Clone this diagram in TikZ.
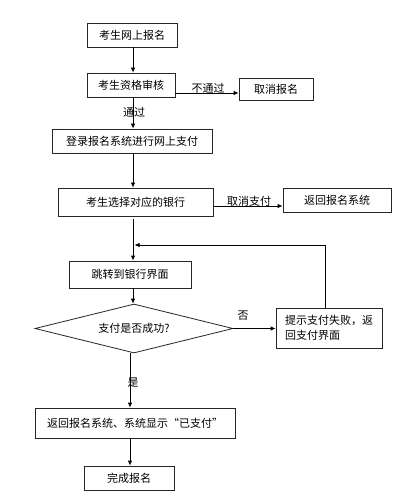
\documentclass[tikz,border=0pt]{standalone}
\usepackage{fontspec}
\setmainfont{Noto Sans CJK SC}
\usetikzlibrary{shapes.geometric,arrows.meta,calc}
\begin{document}
\begin{tikzpicture}[x=1pt,y=-1pt,
  box/.style={draw=black!85,line width=0.8pt,inner sep=2pt,font=\fontsize{11}{15}\selectfont},
  dia/.style={draw=black!85,line width=0.8pt,diamond,aspect=4,inner sep=0pt,font=\fontsize{11}{15}\selectfont},
  arr/.style={draw=black,line width=0.8pt,-{Latex[length=5pt,width=4.5pt]}},
  lbl/.style={font=\fontsize{11}{15}\selectfont,inner sep=1pt}]
\useasboundingbox[fill=white] (0,0) rectangle (406,502);
\node[box,minimum width=90pt,minimum height=24pt] (b1) at (132,35) {考生网上报名};
\node[box,minimum width=88pt,minimum height=24pt] (b2) at (131,85) {考生资格审核};
\node[box,minimum width=74pt,minimum height=22pt] (b3) at (276,89) {取消报名};
\node[box,minimum width=160pt,minimum height=24pt] (b4) at (132,141) {登录报名系统进行网上支付};
\node[box,minimum width=155pt,minimum height=28pt] (b5) at (135.5,202) {考生选择对应的银行};
\node[box,minimum width=108pt,minimum height=24pt] (b6) at (337,200) {返回报名系统};
\node[box,minimum width=122pt,minimum height=27pt] (b7) at (130,274.5) {跳转到银行界面};
\node[dia,minimum width=198pt,minimum height=49pt] (d) at (134,328.5) {支付是否成功?};
\node[box,minimum width=106pt,minimum height=40pt,align=left] (b8) at (329,328) {提示支付失败，返\\回支付界面};
\node[box,minimum width=200pt,minimum height=30pt] (b9) at (135,423) {返回报名系统、系统显示“已支付”};
\node[box,minimum width=90pt,minimum height=24pt] (b10) at (129,478) {完成报名};
\coordinate (ax) at (133,0);
\coordinate (ax2) at (130,0);
\coordinate (yA) at (0,93);
\coordinate (yB) at (0,206);
\coordinate (yC) at (0,245);
\coordinate (xF) at (325,0);
\draw[arr] (b1.south -| ax) -- (b2.north -| ax);
\draw[arr] (b2.east |- yA) -- (b3.west |- yA);
\node[lbl] (l1) at (208,88) {不通过};
\draw[arr] (b2.south -| ax) -- (b4.north -| ax);
\node[lbl] (l2) at (134,112) {通过};
\draw[arr] (b4.south -| ax) -- (b5.north -| ax);
\draw[arr] (b5.east |- yB) -- (b6.west |- yB);
\node[lbl] (l3) at (249,201) {取消支付};
\draw[arr,shorten <=3pt] (b5.south -| ax) -- (b7.north -| ax);
\draw[arr] (b8.north -| xF) -- (xF |- yC) -- ($(ax |- yC)+(1.5,0)$);
\draw[arr] (b7.south -| ax) -- (d.north -| ax);
\draw[arr] (d.east) -- (b8.west |- d.east);
\node[lbl] (l4) at (243,316) {否};
\draw[arr] (d.south -| ax2) -- (b9.north -| ax2);
\node[lbl] (l5) at (133,383) {是};
\draw[arr] (b9.south -| ax2) -- (b10.north -| ax2);
\end{tikzpicture}
\end{document}
